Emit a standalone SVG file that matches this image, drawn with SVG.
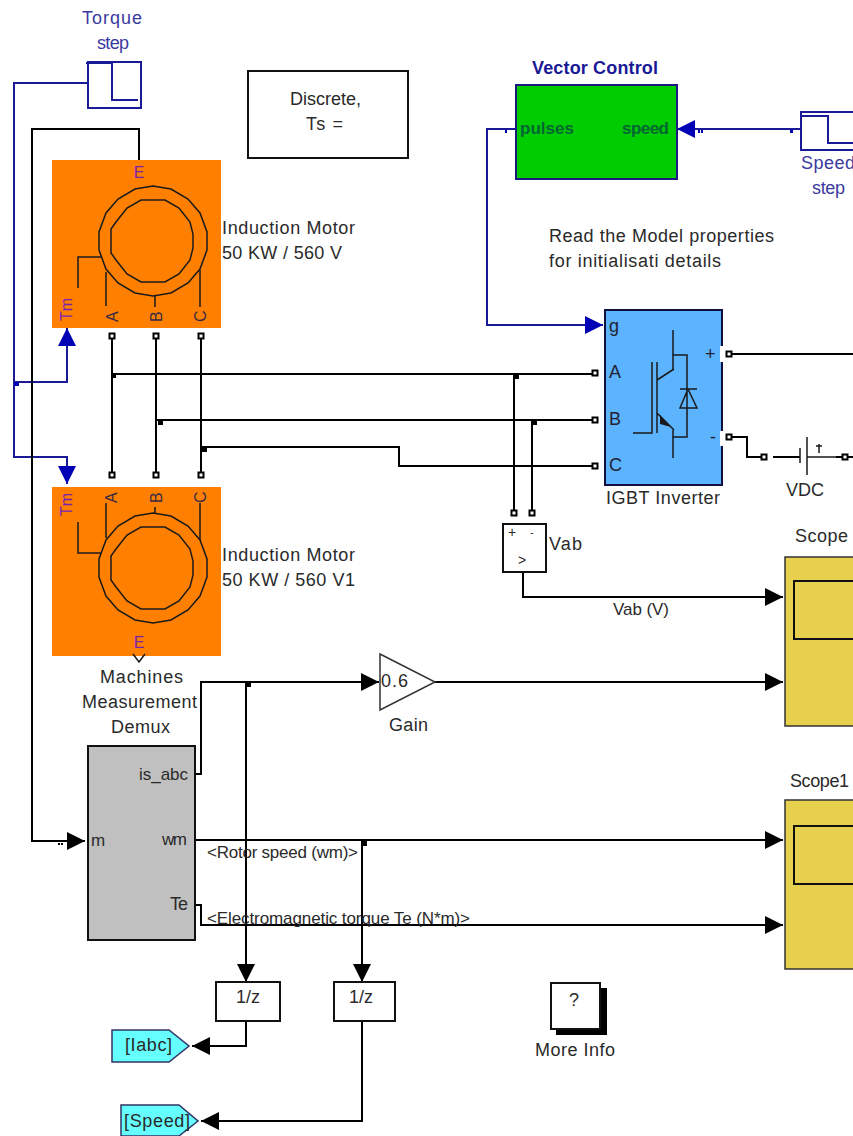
<svg xmlns="http://www.w3.org/2000/svg" width="853" height="1136" viewBox="0 0 853 1136">
<defs>
<marker id="a" markerUnits="userSpaceOnUse" markerWidth="19" markerHeight="19" refX="18" refY="9.5" orient="auto"><path d="M0 .5L18 9.5L0 18.5Z" fill="#000"/></marker>
<marker id="b" markerUnits="userSpaceOnUse" markerWidth="19" markerHeight="19" refX="18" refY="9.5" orient="auto"><path d="M0 .5L18 9.5L0 18.5Z" fill="#0000b4"/></marker>
<g id="igl"><rect x="-2.5" y="-2.5" width="5" height="5" fill="#fff" stroke="#000" stroke-width="2"/></g>
</defs>
<style>
text{font-family:"Liberation Sans",Arial,sans-serif;font-size:18px;fill:#2a2a2a}
.bl{fill:#3a3aa0}
.pu{fill:#7a1fb0;font-size:16px}
.pin{font-size:16px;fill:#3a2a40}
.sm{font-size:17px}
.w{fill:none;stroke:#000;stroke-width:2}
.wb{fill:none;stroke:#1a1a96;stroke-width:2}
.box{fill:#fff;stroke:#111;stroke-width:2}
.sym{fill:none;stroke:#1a1a1a;stroke-width:1.5}
.dot{fill:#000}
.tick{fill:#0000b4}
</style>
<rect width="853" height="1136" fill="#fff"/>

<g id="connectors">
<path class="wb" d="M88 83H14V457H67V484" marker-end="url(#b)"/>
<path class="wb" d="M14 382H67V328" marker-end="url(#b)"/>
<rect x="14" y="382" width="5" height="4" class="tick"/>
<path class="w" d="M139 160V129H32V841H85" marker-end="url(#a)"/>
<rect x="58" y="843" width="2" height="2" class="dot"/><rect x="61" y="843" width="2" height="2" class="dot"/>
<path class="wb" d="M800 129H677" marker-end="url(#b)"/>
<rect x="698" y="130" width="2" height="3" class="tick"/><rect x="701" y="130" width="2" height="3" class="tick"/><rect x="790" y="130" width="3" height="3" class="tick"/>
<path class="wb" d="M516 129H487V325H603" marker-end="url(#b)"/>
<rect x="505" y="130" width="2" height="3" class="tick"/>
<path class="w" d="M112 337V474M156 337V474M201 337V474"/>
<path class="w" d="M112 374H592M156 420H592M201 447H399V466H592"/>
<path class="w" d="M514 374V511M532 420V511"/>
<rect x="111" y="373" width="5" height="5" class="dot"/>
<rect x="158" y="420" width="5" height="5" class="dot"/>
<rect x="202" y="447" width="5" height="5" class="dot"/>
<rect x="515" y="374" width="4" height="5" class="dot"/>
<rect x="533" y="420" width="4" height="5" class="dot"/>
<path class="w" d="M729 354H853"/>
<path class="w" d="M729 437H747V457H764"/>
<path class="w" d="M773 457H800M836 457H853"/>
<path class="w" d="M523 572V597H783" marker-end="url(#a)"/>
<path class="w" d="M195 774H201V682H379" marker-end="url(#a)"/>
<rect x="246" y="682" width="5" height="5" class="dot"/>
<path class="w" d="M435 682H783" marker-end="url(#a)"/>
<path class="w" d="M246 682V982" marker-end="url(#a)"/>
<path class="w" d="M195 840H783" marker-end="url(#a)"/>
<rect x="362" y="841" width="5" height="5" class="dot"/>
<path class="w" d="M362 840V982" marker-end="url(#a)"/>
<path class="w" d="M195 905H201V925H783" marker-end="url(#a)"/>
<path class="w" d="M246 1021V1046H192" marker-end="url(#a)"/>
<path class="w" d="M362 1021V1121H201" marker-end="url(#a)"/>
</g>

<g id="torque-step">
<rect x="88" y="62" width="53" height="46" fill="#fff" stroke="#1a1a96" stroke-width="2"/>
<path class="wb" d="M86 63H112V100H138"/>
<text x="82" y="24" class="bl" textLength="60">Torque</text>
<text x="97" y="49" class="bl" textLength="32">step</text>
</g>

<g id="powergui">
<rect x="248" y="71" width="160" height="87" class="box"/>
<text x="290" y="105" textLength="71">Discrete,</text>
<text x="306" y="130" textLength="37">Ts =</text>
</g>

<g id="vector-control">
<rect x="516" y="85" width="161" height="94" fill="#00cc00" stroke="#1a1a80" stroke-width="2"/>
<text x="532" y="74" style="fill:#1a1a96;font-weight:bold" textLength="126">Vector Control</text>
<text x="520" y="134" style="font-weight:bold;fill:#063;font-size:17px" textLength="54">pulses</text>
<text x="622" y="134" style="font-weight:bold;fill:#063;font-size:17px" textLength="47">speed</text>
</g>

<g id="speed-step">
<path d="M853 112H801V150H853" fill="#fff" stroke="#1a1a96" stroke-width="2"/>
<path class="wb" d="M800 116H828V143H853"/>
<text x="801" y="169" class="bl" textLength="54">Speed</text>
<text x="812" y="194" class="bl" textLength="33">step</text>
</g>

<text x="549" y="242" textLength="225">Read the Model properties</text>
<text x="549" y="267" textLength="172">for initialisati details</text>

<g id="motor-1">
<rect x="52" y="160" width="169" height="168" fill="#ff8000"/>
<polygon class="sym" points="153,186 171,189 188,199 200,213 207,232 207,250 200,269 188,283 171,293 153,296 135,293 118,283 106,269 99,250 99,232 106,213 118,199 135,189"/>
<polygon class="sym" points="141,200 165,200 179,208 190,222 193,234 193,248 190,260 179,274 165,282 141,282 127,274 116,260 111,253 111,229 116,222 127,208"/>
<path class="sym" d="M101 257H78V288M106 272V306M155 296V307M200 270V307"/>
<text x="139" y="178" class="pu" text-anchor="middle">E</text>
<text transform="translate(72,321) rotate(-90)" class="pu">Tm</text>
<text transform="translate(118,322) rotate(-90)" class="pin">A</text>
<text transform="translate(162,322) rotate(-90)" class="pin">B</text>
<text transform="translate(206,322) rotate(-90)" class="pin">C</text>
<use href="#igl" x="112" y="336"/><use href="#igl" x="156" y="336"/><use href="#igl" x="201" y="336"/>
<text x="222" y="234" textLength="133">Induction Motor</text>
<text x="222" y="259" textLength="120">50 KW / 560 V</text>
</g>

<g id="motor-2">
<rect x="52" y="487" width="169" height="169" fill="#ff8000"/>
<polygon class="sym" points="153,513 171,516 188,526 200,540 207,559 207,577 200,596 188,610 171,620 153,623 135,620 118,610 106,596 99,577 99,559 106,540 118,526 135,516"/>
<polygon class="sym" points="141,527 165,527 179,535 190,549 193,561 193,575 190,587 179,601 165,609 141,609 127,601 116,587 111,580 111,556 116,549 127,535"/>
<path class="sym" d="M101 553H78V522M106 538V503M155 513V507M200 540V503"/>
<text x="139" y="648" class="pu" text-anchor="middle">E</text>
<text transform="translate(72,516) rotate(-90)" class="pu">Tm</text>
<text transform="translate(117,503) rotate(-90)" class="pin">A</text>
<text transform="translate(162,503) rotate(-90)" class="pin">B</text>
<text transform="translate(206,503) rotate(-90)" class="pin">C</text>
<use href="#igl" x="112" y="475"/><use href="#igl" x="156" y="475"/><use href="#igl" x="201" y="475"/>
<path class="sym" d="M133 654L139 662L145 654"/>
<text x="222" y="561" textLength="133">Induction Motor</text>
<text x="222" y="586" textLength="133">50 KW / 560 V1</text>
</g>

<g id="inverter">
<rect x="605" y="310" width="117" height="175" fill="#5cb4ff" stroke="#101040" stroke-width="2"/>
<rect x="720" y="346" width="4" height="16" fill="#fff"/>
<rect x="720" y="431" width="4" height="15" fill="#fff"/>
<text x="609" y="332" style="fill:#223">g</text>
<text x="609" y="378" style="fill:#223">A</text>
<text x="609" y="425" style="fill:#223">B</text>
<text x="609" y="471" style="fill:#223">C</text>
<text x="705" y="360" style="fill:#223">+</text>
<text x="710" y="443" style="fill:#223">-</text>
<path class="sym" d="M633 433H652V362M657 362V433M657 380L674 369M673 330V369M673 355H687V437H673M657 413L674 430M673 430V458M680 389H697M688 389L680 408H697L688 389"/>
<path d="M660 415L671 427L660 424Z" fill="#1a1a1a"/>
<use href="#igl" x="595" y="373"/><use href="#igl" x="595" y="420"/><use href="#igl" x="595" y="466"/>
<use href="#igl" x="729" y="354"/><use href="#igl" x="729" y="437"/>
<text x="606" y="504" textLength="114">IGBT Inverter</text>
</g>

<g id="vdc">
<use href="#igl" x="764" y="457"/><use href="#igl" x="845" y="457"/>
<path class="sym" d="M800 448V463M807 437V475M807 457H836M819 453V444M816 446H822"/>
<text x="786" y="496" textLength="38">VDC</text>
</g>

<g id="vab">
<rect x="503" y="524" width="43" height="48" class="box"/>
<use href="#igl" x="514" y="513"/><use href="#igl" x="532" y="513"/>
<text x="508" y="537" style="font-size:14px">+</text>
<text x="530" y="536" style="font-size:11px">-</text>
<text x="518" y="565" style="font-size:14px">&gt;</text>
<text x="549" y="550" textLength="33">Vab</text>
<text x="613" y="615" class="sm" textLength="56">Vab (V)</text>
</g>

<g id="scope">
<rect x="785" y="557" width="80" height="169" fill="#e6d04e" stroke="#333" stroke-width="1.5"/>
<rect x="794" y="581" width="70" height="58" fill="#e6d04e" stroke="#111" stroke-width="2"/>
<text x="795" y="542" textLength="53">Scope</text>
</g>
<g id="scope1">
<rect x="785" y="800" width="80" height="169" fill="#e6d04e" stroke="#333" stroke-width="1.5"/>
<rect x="794" y="826" width="70" height="58" fill="#e6d04e" stroke="#111" stroke-width="2"/>
<text x="790" y="787" textLength="59">Scope1</text>
</g>

<g id="gain">
<polygon points="380,654 435,682 380,710" fill="#fff" stroke="#333" stroke-width="1.5"/>
<text x="381" y="687" textLength="27">0.6</text>
<text x="389" y="731" textLength="39">Gain</text>
</g>

<g id="demux">
<rect x="88" y="746" width="107" height="194" fill="#c0c0c0" stroke="#111" stroke-width="2"/>
<text x="100" y="683" textLength="83">Machines</text>
<text x="82" y="708" textLength="115">Measurement</text>
<text x="111" y="733" textLength="59">Demux</text>
<text x="91" y="846" class="sm" textLength="14">m</text>
<text x="139" y="780" class="sm" textLength="49">is_abc</text>
<text x="162" y="845" class="sm" textLength="25">wm</text>
<text x="170" y="910" textLength="18">Te</text>
<text x="207" y="858" class="sm" textLength="151">&lt;Rotor speed (wm)&gt;</text>
<text x="207" y="924" class="sm" textLength="263">&lt;Electromagnetic torque Te (N*m)&gt;</text>
</g>

<g id="delay-1"><rect x="216" y="982" width="64" height="39" class="box"/><text x="248" y="1003" text-anchor="middle">1/z</text></g>
<g id="delay-2"><rect x="334" y="982" width="61" height="39" class="box"/><text x="361" y="1003" text-anchor="middle">1/z</text></g>

<g id="goto-iabc"><polygon points="112,1030 169,1030 189,1046 169,1062 112,1062" fill="#66ffff" stroke="#336" stroke-width="1.5"/><text x="125" y="1051" textLength="47">[Iabc]</text></g>
<g id="goto-speed"><polygon points="121,1105 179,1105 198,1121 179,1136 121,1136" fill="#66ffff" stroke="#336" stroke-width="1.5"/><text x="124" y="1127" textLength="66">[Speed]</text></g>

<g id="more-info">
<rect x="556" y="988" width="51" height="47" fill="#000"/>
<rect x="551" y="983" width="49" height="46" fill="#fff" stroke="#111" stroke-width="2"/>
<text x="574" y="1006" text-anchor="middle">?</text>
<text x="535" y="1056" textLength="80">More Info</text>
</g>
</svg>
